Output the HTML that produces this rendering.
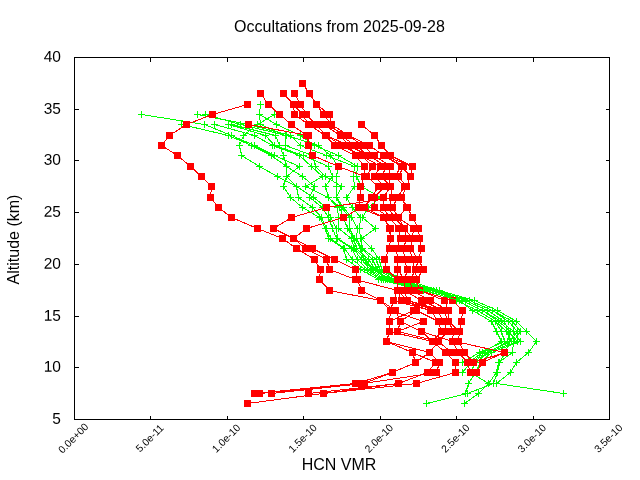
<!DOCTYPE html>
<html><head><meta charset="utf-8"><title>Occultations from 2025-09-28</title>
<style>html,body{margin:0;padding:0;background:#fff}body{width:640px;height:480px;overflow:hidden}</style></head>
<body>
<svg width="640" height="480" viewBox="0 0 640 480" style="display:block">
<rect width="640" height="480" fill="#fff"/>
<defs><clipPath id="plot"><rect x="75" y="58" width="534" height="361"/></clipPath><clipPath id="top"><polygon points="418,278 470,296 500,300 500,340 440,340 440,296 418,292"/></clipPath></defs>
<g id="grn" shape-rendering="crispEdges" stroke="#00ff00" stroke-width="1" fill="none">
<path d="M141.5 114.5 L204.5 124.5 L231.5 135.5 L254.5 145.5 L274.5 155.5 L299.5 166.5 L286.5 176.5 L296.5 186.5 L313.5 197.5 L326.5 207.5 L330.5 217.5 L336.5 228.5 L337.5 238.5 L353.5 248.5 L361.5 259.5 L370.5 269.5 L385.5 279.5 L426.5 290.5 L456.5 300.5 L477.5 310.5 L495.5 321.5 L506.5 331.5 L511.5 341.5 L485.5 352.5 L470.5 362.5 L462.5 372.5"/>
<path d="M181.5 124.5 L228.5 135.5 L251.5 145.5 L271.5 155.5 L286.5 166.5 L302.5 176.5 L314.5 186.5 L309.5 197.5 L322.5 207.5 L328.5 217.5 L332.5 228.5 L336.5 238.5 L351.5 248.5 L357.5 259.5 L367.5 269.5 L383.5 279.5 L426.5 290.5 L456.5 300.5 L477.5 310.5 L495.5 321.5 L501.5 331.5 L504.5 341.5 L479.5 352.5 L462.5 362.5"/>
<path d="M214.5 124.5 L254.5 135.5 L272.5 145.5 L299.5 155.5 L311.5 166.5 L322.5 176.5 L305.5 186.5 L328.5 197.5 L337.5 207.5 L338.5 217.5 L338.5 228.5 L351.5 238.5 L354.5 248.5 L365.5 259.5 L373.5 269.5 L387.5 279.5 L430.5 290.5 L461.5 300.5 L482.5 310.5 L498.5 321.5 L510.5 331.5 L507.5 341.5 L488.5 352.5 L475.5 362.5 L470.5 372.5 L488.5 383.5"/>
<path d="M228.5 124.5 L265.5 135.5 L274.5 145.5 L303.5 155.5 L328.5 166.5 L332.5 176.5 L325.5 186.5 L328.5 197.5 L339.5 207.5 L343.5 217.5 L347.5 228.5 L353.5 238.5 L356.5 248.5 L368.5 259.5 L375.5 269.5 L389.5 279.5 L430.5 290.5 L461.5 300.5 L482.5 310.5 L501.5 321.5 L513.5 331.5 L520.5 341.5 L491.5 352.5 L480.5 362.5 L475.5 372.5 L468.5 383.5 L465.5 393.5"/>
<path d="M274.5 114.5 L257.5 124.5 L243.5 135.5 L239.5 145.5 L241.5 155.5 L259.5 166.5 L277.5 176.5 L296.5 186.5 L298.5 197.5 L312.5 207.5 L321.5 217.5 L326.5 228.5 L330.5 238.5 L344.5 248.5 L352.5 259.5 L364.5 269.5 L381.5 279.5 L423.5 290.5 L459.5 300.5 L472.5 310.5 L491.5 321.5 L496.5 331.5 L501.5 341.5 L482.5 352.5 L468.5 362.5"/>
<path d="M260.5 104.5 L259.5 114.5 L260.5 124.5 L285.5 135.5 L285.5 145.5 L312.5 155.5 L315.5 166.5 L325.5 176.5 L341.5 186.5 L336.5 197.5 L343.5 207.5 L351.5 217.5 L357.5 228.5 L356.5 238.5 L361.5 248.5 L372.5 259.5 L377.5 269.5 L394.5 279.5 L436.5 290.5 L469.5 300.5 L492.5 310.5 L508.5 321.5 L517.5 331.5 L509.5 341.5 L505.5 352.5 L499.5 362.5 L497.5 372.5 L493.5 383.5 L467.5 393.5 L426.5 403.5"/>
<path d="M259.5 114.5 L276.5 124.5 L300.5 135.5 L314.5 145.5 L338.5 155.5 L357.5 166.5 L356.5 176.5 L361.5 186.5 L380.5 197.5 L368.5 207.5 L362.5 217.5 L375.5 228.5 L361.5 238.5 L371.5 248.5 L379.5 259.5 L381.5 269.5 L404.5 279.5 L439.5 290.5 L474.5 300.5 L497.5 310.5 L516.5 321.5 L526.5 331.5 L536.5 341.5 L528.5 352.5 L516.5 362.5 L510.5 372.5 L496.5 383.5 L563.5 393.5"/>
<path d="M231.5 124.5 L275.5 135.5 L279.5 145.5 L283.5 155.5 L286.5 166.5 L286.5 176.5 L283.5 186.5 L290.5 197.5 L302.5 207.5 L319.5 217.5 L325.5 228.5 L328.5 238.5 L343.5 248.5 L346.5 259.5 L360.5 269.5 L378.5 279.5 L423.5 290.5 L459.5 300.5 L472.5 310.5 L491.5 321.5 L496.5 331.5"/>
<path d="M197.5 114.5 L248.5 124.5 L290.5 135.5 L300.5 145.5 L326.5 155.5 L354.5 166.5 L353.5 176.5 L354.5 186.5 L346.5 197.5 L352.5 207.5 L360.5 217.5 L359.5 228.5 L360.5 238.5 L362.5 248.5 L376.5 259.5 L379.5 269.5 L399.5 279.5 L436.5 290.5 L469.5 300.5 L492.5 310.5 L512.5 321.5 L520.5 331.5 L513.5 341.5 L512.5 352.5 L498.5 362.5 L496.5 372.5 L488.5 383.5 L478.5 393.5 L464.5 403.5"/>
<path d="M205.5 114.5 L240.5 124.5 L286.5 135.5 L318.5 145.5 L330.5 155.5 L338.5 166.5 L336.5 176.5 L336.5 186.5 L336.5 197.5 L341.5 207.5 L349.5 217.5 L349.5 228.5 L354.5 238.5 L360.5 248.5 L363.5 259.5 L372.5 269.5 L391.5 279.5 L433.5 290.5 L465.5 300.5 L487.5 310.5 L504.5 321.5 L508.5 331.5 L517.5 341.5 L487.5 352.5 L472.5 362.5"/>
<path d="M138 114.5h7M141.5 111v7M201 124.5h7M204.5 121v7M228 135.5h7M231.5 132v7M251 145.5h7M254.5 142v7M271 155.5h7M274.5 152v7M296 166.5h7M299.5 163v7M283 176.5h7M286.5 173v7M293 186.5h7M296.5 183v7M310 197.5h7M313.5 194v7M323 207.5h7M326.5 204v7M327 217.5h7M330.5 214v7M333 228.5h7M336.5 225v7M334 238.5h7M337.5 235v7M350 248.5h7M353.5 245v7M358 259.5h7M361.5 256v7M367 269.5h7M370.5 266v7M382 279.5h7M385.5 276v7M423 290.5h7M426.5 287v7M453 300.5h7M456.5 297v7M474 310.5h7M477.5 307v7M492 321.5h7M495.5 318v7M503 331.5h7M506.5 328v7M508 341.5h7M511.5 338v7M482 352.5h7M485.5 349v7M467 362.5h7M470.5 359v7M459 372.5h7M462.5 369v7M178 124.5h7M181.5 121v7M225 135.5h7M228.5 132v7M248 145.5h7M251.5 142v7M268 155.5h7M271.5 152v7M283 166.5h7M286.5 163v7M299 176.5h7M302.5 173v7M311 186.5h7M314.5 183v7M306 197.5h7M309.5 194v7M319 207.5h7M322.5 204v7M325 217.5h7M328.5 214v7M329 228.5h7M332.5 225v7M333 238.5h7M336.5 235v7M348 248.5h7M351.5 245v7M354 259.5h7M357.5 256v7M364 269.5h7M367.5 266v7M380 279.5h7M383.5 276v7M423 290.5h7M426.5 287v7M453 300.5h7M456.5 297v7M474 310.5h7M477.5 307v7M492 321.5h7M495.5 318v7M498 331.5h7M501.5 328v7M501 341.5h7M504.5 338v7M476 352.5h7M479.5 349v7M459 362.5h7M462.5 359v7M211 124.5h7M214.5 121v7M251 135.5h7M254.5 132v7M269 145.5h7M272.5 142v7M296 155.5h7M299.5 152v7M308 166.5h7M311.5 163v7M319 176.5h7M322.5 173v7M302 186.5h7M305.5 183v7M325 197.5h7M328.5 194v7M334 207.5h7M337.5 204v7M335 217.5h7M338.5 214v7M335 228.5h7M338.5 225v7M348 238.5h7M351.5 235v7M351 248.5h7M354.5 245v7M362 259.5h7M365.5 256v7M370 269.5h7M373.5 266v7M384 279.5h7M387.5 276v7M427 290.5h7M430.5 287v7M458 300.5h7M461.5 297v7M479 310.5h7M482.5 307v7M495 321.5h7M498.5 318v7M507 331.5h7M510.5 328v7M504 341.5h7M507.5 338v7M485 352.5h7M488.5 349v7M472 362.5h7M475.5 359v7M467 372.5h7M470.5 369v7M485 383.5h7M488.5 380v7M225 124.5h7M228.5 121v7M262 135.5h7M265.5 132v7M271 145.5h7M274.5 142v7M300 155.5h7M303.5 152v7M325 166.5h7M328.5 163v7M329 176.5h7M332.5 173v7M322 186.5h7M325.5 183v7M325 197.5h7M328.5 194v7M336 207.5h7M339.5 204v7M340 217.5h7M343.5 214v7M344 228.5h7M347.5 225v7M350 238.5h7M353.5 235v7M353 248.5h7M356.5 245v7M365 259.5h7M368.5 256v7M372 269.5h7M375.5 266v7M386 279.5h7M389.5 276v7M427 290.5h7M430.5 287v7M458 300.5h7M461.5 297v7M479 310.5h7M482.5 307v7M498 321.5h7M501.5 318v7M510 331.5h7M513.5 328v7M517 341.5h7M520.5 338v7M488 352.5h7M491.5 349v7M477 362.5h7M480.5 359v7M472 372.5h7M475.5 369v7M465 383.5h7M468.5 380v7M462 393.5h7M465.5 390v7M271 114.5h7M274.5 111v7M254 124.5h7M257.5 121v7M240 135.5h7M243.5 132v7M236 145.5h7M239.5 142v7M238 155.5h7M241.5 152v7M256 166.5h7M259.5 163v7M274 176.5h7M277.5 173v7M293 186.5h7M296.5 183v7M295 197.5h7M298.5 194v7M309 207.5h7M312.5 204v7M318 217.5h7M321.5 214v7M323 228.5h7M326.5 225v7M327 238.5h7M330.5 235v7M341 248.5h7M344.5 245v7M349 259.5h7M352.5 256v7M361 269.5h7M364.5 266v7M378 279.5h7M381.5 276v7M420 290.5h7M423.5 287v7M456 300.5h7M459.5 297v7M469 310.5h7M472.5 307v7M488 321.5h7M491.5 318v7M493 331.5h7M496.5 328v7M498 341.5h7M501.5 338v7M479 352.5h7M482.5 349v7M465 362.5h7M468.5 359v7M257 104.5h7M260.5 101v7M256 114.5h7M259.5 111v7M257 124.5h7M260.5 121v7M282 135.5h7M285.5 132v7M282 145.5h7M285.5 142v7M309 155.5h7M312.5 152v7M312 166.5h7M315.5 163v7M322 176.5h7M325.5 173v7M338 186.5h7M341.5 183v7M333 197.5h7M336.5 194v7M340 207.5h7M343.5 204v7M348 217.5h7M351.5 214v7M354 228.5h7M357.5 225v7M353 238.5h7M356.5 235v7M358 248.5h7M361.5 245v7M369 259.5h7M372.5 256v7M374 269.5h7M377.5 266v7M391 279.5h7M394.5 276v7M433 290.5h7M436.5 287v7M466 300.5h7M469.5 297v7M489 310.5h7M492.5 307v7M505 321.5h7M508.5 318v7M514 331.5h7M517.5 328v7M506 341.5h7M509.5 338v7M502 352.5h7M505.5 349v7M496 362.5h7M499.5 359v7M494 372.5h7M497.5 369v7M490 383.5h7M493.5 380v7M464 393.5h7M467.5 390v7M423 403.5h7M426.5 400v7M256 114.5h7M259.5 111v7M273 124.5h7M276.5 121v7M297 135.5h7M300.5 132v7M311 145.5h7M314.5 142v7M335 155.5h7M338.5 152v7M354 166.5h7M357.5 163v7M353 176.5h7M356.5 173v7M358 186.5h7M361.5 183v7M377 197.5h7M380.5 194v7M365 207.5h7M368.5 204v7M359 217.5h7M362.5 214v7M372 228.5h7M375.5 225v7M358 238.5h7M361.5 235v7M368 248.5h7M371.5 245v7M376 259.5h7M379.5 256v7M378 269.5h7M381.5 266v7M401 279.5h7M404.5 276v7M436 290.5h7M439.5 287v7M471 300.5h7M474.5 297v7M494 310.5h7M497.5 307v7M513 321.5h7M516.5 318v7M523 331.5h7M526.5 328v7M533 341.5h7M536.5 338v7M525 352.5h7M528.5 349v7M513 362.5h7M516.5 359v7M507 372.5h7M510.5 369v7M493 383.5h7M496.5 380v7M560 393.5h7M563.5 390v7M228 124.5h7M231.5 121v7M272 135.5h7M275.5 132v7M276 145.5h7M279.5 142v7M280 155.5h7M283.5 152v7M283 166.5h7M286.5 163v7M283 176.5h7M286.5 173v7M280 186.5h7M283.5 183v7M287 197.5h7M290.5 194v7M299 207.5h7M302.5 204v7M316 217.5h7M319.5 214v7M322 228.5h7M325.5 225v7M325 238.5h7M328.5 235v7M340 248.5h7M343.5 245v7M343 259.5h7M346.5 256v7M357 269.5h7M360.5 266v7M375 279.5h7M378.5 276v7M420 290.5h7M423.5 287v7M456 300.5h7M459.5 297v7M469 310.5h7M472.5 307v7M488 321.5h7M491.5 318v7M493 331.5h7M496.5 328v7M194 114.5h7M197.5 111v7M245 124.5h7M248.5 121v7M287 135.5h7M290.5 132v7M297 145.5h7M300.5 142v7M323 155.5h7M326.5 152v7M351 166.5h7M354.5 163v7M350 176.5h7M353.5 173v7M351 186.5h7M354.5 183v7M343 197.5h7M346.5 194v7M349 207.5h7M352.5 204v7M357 217.5h7M360.5 214v7M356 228.5h7M359.5 225v7M357 238.5h7M360.5 235v7M359 248.5h7M362.5 245v7M373 259.5h7M376.5 256v7M376 269.5h7M379.5 266v7M396 279.5h7M399.5 276v7M433 290.5h7M436.5 287v7M466 300.5h7M469.5 297v7M489 310.5h7M492.5 307v7M509 321.5h7M512.5 318v7M517 331.5h7M520.5 328v7M510 341.5h7M513.5 338v7M509 352.5h7M512.5 349v7M495 362.5h7M498.5 359v7M493 372.5h7M496.5 369v7M485 383.5h7M488.5 380v7M475 393.5h7M478.5 390v7M461 403.5h7M464.5 400v7M202 114.5h7M205.5 111v7M237 124.5h7M240.5 121v7M283 135.5h7M286.5 132v7M315 145.5h7M318.5 142v7M327 155.5h7M330.5 152v7M335 166.5h7M338.5 163v7M333 176.5h7M336.5 173v7M333 186.5h7M336.5 183v7M333 197.5h7M336.5 194v7M338 207.5h7M341.5 204v7M346 217.5h7M349.5 214v7M346 228.5h7M349.5 225v7M351 238.5h7M354.5 235v7M357 248.5h7M360.5 245v7M360 259.5h7M363.5 256v7M369 269.5h7M372.5 266v7M388 279.5h7M391.5 276v7M430 290.5h7M433.5 287v7M462 300.5h7M465.5 297v7M484 310.5h7M487.5 307v7M501 321.5h7M504.5 318v7M505 331.5h7M508.5 328v7M514 341.5h7M517.5 338v7M484 352.5h7M487.5 349v7M469 362.5h7M472.5 359v7"/>
</g>
<g id="red" shape-rendering="crispEdges" stroke="#ff0000" stroke-width="1" fill="none">
<path d="M302.5 83.5 L309.5 93.5 L316.5 104.5 L323.5 114.5 L331.5 124.5 L340.5 135.5 L348.5 145.5 L355.5 155.5 L364.5 166.5"/>
<path d="M294.5 93.5 L300.5 104.5 L306.5 114.5 L315.5 124.5 L326.5 135.5 L341.5 145.5 L361.5 155.5 L372.5 166.5"/>
<path d="M283.5 93.5 L293.5 104.5 L302.5 114.5 L308.5 124.5 L325.5 135.5 L334.5 145.5 L355.5 155.5"/>
<path d="M260.5 93.5 L268.5 104.5 L279.5 114.5 L291.5 124.5 L306.5 135.5 L308.5 145.5"/>
<path d="M247.5 104.5 L212.5 114.5 L186.5 124.5 L169.5 135.5 L161.5 145.5 L177.5 155.5 L190.5 166.5 L201.5 176.5 L211.5 186.5 L210.5 197.5 L218.5 207.5 L231.5 217.5 L257.5 228.5 L282.5 238.5 L296.5 248.5 L314.5 259.5 L320.5 269.5 L319.5 279.5 L329.5 290.5 L380.5 300.5 L390.5 310.5 L389.5 321.5 L389.5 331.5 L386.5 341.5 L412.5 352.5 L415.5 362.5 L392.5 372.5 L363.5 383.5 L271.5 393.5"/>
<path d="M248.5 124.5 L308.5 135.5 L308.5 145.5 L312.5 155.5 L338.5 166.5 L364.5 176.5 L360.5 186.5 L360.5 197.5 L358.5 207.5"/>
<path d="M392.5 197.5 L326.5 207.5 L291.5 217.5 L273.5 228.5 L293.5 238.5 L305.5 248.5 L326.5 259.5 L329.5 269.5 L355.5 279.5 L397.5 290.5"/>
<path d="M374.5 197.5 L361.5 207.5 L343.5 217.5 L306.5 228.5 L293.5 238.5 L312.5 248.5 L334.5 259.5 L355.5 269.5 L357.5 279.5 L361.5 290.5 L380.5 300.5"/>
<path d="M294.5 114.5 L293.5 104.5"/>
<path d="M294.5 114.5 L308.5 124.5"/>
<path d="M329.5 114.5 L331.5 124.5"/>
<path d="M316.5 104.5 L329.5 114.5"/>
<path d="M361.5 124.5 L374.5 135.5 L381.5 145.5 L390.5 155.5 L401.5 166.5 L410.5 176.5 L406.5 186.5"/>
<path d="M323.5 124.5 L348.5 135.5 L369.5 145.5 L383.5 155.5 L412.5 166.5 L410.5 176.5"/>
<path d="M247.5 403.5 L398.5 383.5 L427.5 372.5"/>
<path d="M254.5 393.5 L355.5 383.5 L392.5 372.5"/>
<path d="M259.5 393.5 L363.5 383.5 L436.5 372.5"/>
<path d="M308.5 393.5 L398.5 383.5"/>
<path d="M323.5 393.5 L416.5 383.5 L455.5 372.5"/>
<path d="M380.5 300.5 L395.5 310.5 L400.5 321.5 L397.5 331.5"/>
<path d="M393.5 300.5 L390.5 310.5"/>
<path d="M386.5 341.5 L429.5 352.5 L415.5 362.5"/>
<path d="M389.5 331.5 L432.5 341.5"/>
<path d="M397.5 331.5 L438.5 341.5 L429.5 352.5"/>
<path d="M400.5 321.5 L421.5 331.5 L432.5 341.5"/>
<path d="M389.5 321.5 L413.5 310.5"/>
<path d="M400.5 321.5 L416.5 310.5"/>
<path d="M423.5 321.5 L390.5 310.5"/>
<path d="M423.5 321.5 L397.5 331.5"/>
<path d="M416.5 310.5 L438.5 321.5"/>
<path d="M421.5 331.5 L452.5 341.5"/>
<path d="M401.5 300.5 L430.5 310.5"/>
<path d="M407.5 300.5 L437.5 310.5"/>
<path d="M413.5 310.5 L421.5 300.5"/>
<path d="M416.5 310.5 L430.5 300.5"/>
<path d="M412.5 352.5 L435.5 362.5"/>
<path d="M429.5 352.5 L439.5 362.5"/>
<path d="M432.5 341.5 L445.5 352.5"/>
<path d="M455.5 341.5 L504.5 352.5 L482.5 362.5"/>
<path d="M504.5 352.5 L473.5 362.5"/>
<path d="M435.5 362.5 L427.5 372.5"/>
<path d="M439.5 362.5 L436.5 372.5"/>
<path d="M455.5 362.5 L455.5 372.5"/>
<path d="M467.5 362.5 L470.5 372.5"/>
<path d="M482.5 362.5 L476.5 372.5"/>
<path d="M445.5 352.5 L455.5 362.5"/>
<path d="M458.5 352.5 L467.5 362.5"/>
<path d="M464.5 352.5 L473.5 362.5"/>
<path d="M461.5 321.5 L462.5 310.5 L452.5 300.5"/>
<path d="M461.5 321.5 L459.5 331.5 L458.5 341.5 L464.5 352.5"/>
<path d="M444.5 300.5 L448.5 310.5"/>
<path d="M308.5 124.5L325.5 135.5M315.5 124.5L326.5 135.5M323.5 124.5L340.5 135.5M331.5 124.5L348.5 135.5M361.5 124.5L374.5 135.5M325.5 135.5L334.5 145.5M326.5 135.5L341.5 145.5M326.5 135.5L348.5 145.5M340.5 135.5L355.5 145.5M348.5 135.5L362.5 145.5M348.5 135.5L369.5 145.5M374.5 135.5L381.5 145.5M334.5 145.5L355.5 155.5M341.5 145.5L361.5 155.5M348.5 145.5L368.5 155.5M355.5 145.5L368.5 155.5M362.5 145.5L374.5 155.5M369.5 145.5L383.5 155.5M381.5 145.5L390.5 155.5M355.5 155.5L364.5 166.5M361.5 155.5L372.5 166.5M361.5 155.5L380.5 166.5M368.5 155.5L386.5 166.5M374.5 155.5L390.5 166.5M383.5 155.5L401.5 166.5M383.5 155.5L403.5 166.5M390.5 155.5L412.5 166.5M364.5 166.5L364.5 176.5M372.5 166.5L366.5 176.5M380.5 166.5L374.5 176.5M386.5 166.5L381.5 176.5M390.5 166.5L388.5 176.5M401.5 166.5L394.5 176.5M403.5 166.5L398.5 176.5M412.5 166.5L410.5 176.5M364.5 176.5L360.5 186.5M366.5 176.5L378.5 186.5M374.5 176.5L384.5 186.5M381.5 176.5L390.5 186.5M388.5 176.5L390.5 186.5M394.5 176.5L404.5 186.5M398.5 176.5L406.5 186.5M410.5 176.5L406.5 186.5M360.5 186.5L360.5 197.5M378.5 186.5L371.5 197.5M384.5 186.5L374.5 197.5M390.5 186.5L383.5 197.5M390.5 186.5L392.5 197.5M404.5 186.5L397.5 197.5M406.5 186.5L401.5 197.5M406.5 186.5L401.5 197.5M360.5 197.5L358.5 207.5M371.5 197.5L364.5 207.5M374.5 197.5L374.5 207.5M383.5 197.5L383.5 207.5M392.5 197.5L388.5 207.5M397.5 197.5L392.5 207.5M401.5 197.5L406.5 207.5M401.5 197.5L407.5 207.5M358.5 207.5L383.5 217.5M364.5 207.5L383.5 217.5M374.5 207.5L389.5 217.5M383.5 207.5L389.5 217.5M388.5 207.5L394.5 217.5M392.5 207.5L398.5 217.5M406.5 207.5L398.5 217.5M407.5 207.5L412.5 217.5M383.5 217.5L389.5 228.5M383.5 217.5L390.5 228.5M389.5 217.5L398.5 228.5M389.5 217.5L398.5 228.5M394.5 217.5L404.5 228.5M398.5 217.5L404.5 228.5M398.5 217.5L413.5 228.5M412.5 217.5L418.5 228.5M389.5 228.5L390.5 238.5M390.5 228.5L390.5 238.5M398.5 228.5L400.5 238.5M398.5 228.5L400.5 238.5M404.5 228.5L406.5 238.5M404.5 228.5L412.5 238.5M413.5 228.5L412.5 238.5M418.5 228.5L419.5 238.5M390.5 238.5L389.5 248.5M390.5 238.5L389.5 248.5M400.5 238.5L396.5 248.5M400.5 238.5L396.5 248.5M406.5 238.5L403.5 248.5M412.5 238.5L410.5 248.5M412.5 238.5L410.5 248.5M419.5 238.5L421.5 248.5M389.5 248.5L384.5 259.5M389.5 248.5L384.5 259.5M396.5 248.5L397.5 259.5M396.5 248.5L397.5 259.5M403.5 248.5L404.5 259.5M410.5 248.5L411.5 259.5M410.5 248.5L418.5 259.5M421.5 248.5L418.5 259.5M384.5 259.5L386.5 269.5M384.5 259.5L386.5 269.5M397.5 259.5L397.5 269.5M397.5 259.5L397.5 269.5M404.5 259.5L407.5 269.5M411.5 259.5L415.5 269.5M418.5 259.5L415.5 269.5M418.5 259.5L423.5 269.5M386.5 269.5L397.5 279.5M386.5 269.5L397.5 279.5M397.5 269.5L397.5 279.5M397.5 269.5L404.5 279.5M407.5 269.5L404.5 279.5M415.5 269.5L410.5 279.5M415.5 269.5L416.5 279.5M423.5 269.5L416.5 279.5M397.5 279.5L397.5 290.5M397.5 279.5L397.5 290.5M397.5 279.5L397.5 290.5M404.5 279.5L404.5 290.5M404.5 279.5L404.5 290.5M410.5 279.5L411.5 290.5M416.5 279.5L419.5 290.5M416.5 279.5L419.5 290.5M397.5 290.5L393.5 300.5M397.5 290.5L401.5 300.5M397.5 290.5L407.5 300.5M404.5 290.5L407.5 300.5M404.5 290.5L421.5 300.5M411.5 290.5L430.5 300.5M419.5 290.5L444.5 300.5M419.5 290.5L452.5 300.5M393.5 300.5L430.5 310.5M401.5 300.5L437.5 310.5M407.5 300.5L437.5 310.5M407.5 300.5L443.5 310.5M421.5 300.5L443.5 310.5M430.5 300.5L448.5 310.5M444.5 300.5L448.5 310.5M452.5 300.5L462.5 310.5M430.5 310.5L438.5 321.5M437.5 310.5L443.5 321.5M443.5 310.5L448.5 321.5M448.5 310.5L448.5 321.5M462.5 310.5L461.5 321.5M438.5 321.5L441.5 331.5M443.5 321.5L447.5 331.5M448.5 321.5L453.5 331.5M448.5 321.5L459.5 331.5M461.5 321.5L459.5 331.5M441.5 331.5L432.5 341.5M447.5 331.5L438.5 341.5M453.5 331.5L452.5 341.5M459.5 331.5L458.5 341.5M459.5 331.5L458.5 341.5M432.5 341.5L445.5 352.5M438.5 341.5L451.5 352.5M452.5 341.5L458.5 352.5M458.5 341.5L464.5 352.5M458.5 341.5L464.5 352.5"/>
</g>
<g shape-rendering="crispEdges" fill="#ff0000" stroke="none">
<path d="M299 80h7v7h-7zM257 90h7v7h-7zM280 90h7v7h-7zM291 90h7v7h-7zM306 90h7v7h-7zM244 101h7v7h-7zM265 101h7v7h-7zM290 101h14v7h-14zM313 101h7v7h-7zM209 111h7v7h-7zM276 111h7v7h-7zM291 111h7v7h-7zM299 111h11v7h-11zM320 111h13v7h-13zM183 121h7v7h-7zM245 121h7v7h-7zM288 121h7v7h-7zM305 121h30v7h-30zM358 121h7v7h-7zM166 132h7v7h-7zM303 132h9v7h-9zM322 132h8v7h-8zM337 132h15v7h-15zM371 132h7v7h-7zM158 142h7v7h-7zM305 142h7v7h-7zM331 142h42v7h-42zM378 142h7v7h-7zM174 152h7v7h-7zM309 152h7v7h-7zM352 152h26v7h-26zM380 152h14v7h-14zM187 163h7v7h-7zM335 163h7v7h-7zM361 163h7v7h-7zM369 163h7v7h-7zM377 163h17v7h-17zM398 163h9v7h-9zM409 163h7v7h-7zM198 173h7v7h-7zM361 173h9v7h-9zM371 173h31v7h-31zM407 173h7v7h-7zM208 183h7v7h-7zM357 183h7v7h-7zM375 183h19v7h-19zM401 183h9v7h-9zM207 194h7v7h-7zM357 194h7v7h-7zM368 194h10v7h-10zM380 194h7v7h-7zM389 194h16v7h-16zM215 204h7v7h-7zM323 204h7v7h-7zM355 204h13v7h-13zM371 204h7v7h-7zM380 204h16v7h-16zM403 204h8v7h-8zM228 214h7v7h-7zM288 214h7v7h-7zM340 214h7v7h-7zM380 214h22v7h-22zM409 214h7v7h-7zM254 225h7v7h-7zM270 225h7v7h-7zM303 225h7v7h-7zM386 225h8v7h-8zM395 225h13v7h-13zM410 225h12v7h-12zM279 235h7v7h-7zM290 235h7v7h-7zM387 235h7v7h-7zM397 235h26v7h-26zM293 245h7v7h-7zM302 245h14v7h-14zM386 245h28v7h-28zM418 245h7v7h-7zM311 256h7v7h-7zM323 256h7v7h-7zM331 256h7v7h-7zM381 256h7v7h-7zM394 256h28v7h-28zM317 266h7v7h-7zM326 266h7v7h-7zM352 266h7v7h-7zM383 266h7v7h-7zM394 266h7v7h-7zM404 266h7v7h-7zM412 266h15v7h-15zM316 276h7v7h-7zM352 276h9v7h-9zM394 276h26v7h-26zM326 287h7v7h-7zM358 287h7v7h-7zM394 287h29v7h-29zM377 297h7v7h-7zM390 297h7v7h-7zM398 297h13v7h-13zM418 297h16v7h-16zM441 297h7v7h-7zM449 297h7v7h-7zM387 307h12v7h-12zM410 307h10v7h-10zM427 307h25v7h-25zM459 307h7v7h-7zM386 318h7v7h-7zM397 318h7v7h-7zM420 318h7v7h-7zM435 318h17v7h-17zM458 318h7v7h-7zM386 328h7v7h-7zM394 328h7v7h-7zM418 328h7v7h-7zM438 328h25v7h-25zM383 338h7v7h-7zM429 338h13v7h-13zM449 338h13v7h-13zM409 349h7v7h-7zM426 349h7v7h-7zM442 349h26v7h-26zM501 349h7v7h-7zM412 359h7v7h-7zM432 359h11v7h-11zM452 359h7v7h-7zM464 359h13v7h-13zM479 359h7v7h-7zM389 369h7v7h-7zM424 369h16v7h-16zM452 369h7v7h-7zM467 369h13v7h-13zM352 380h16v7h-16zM395 380h7v7h-7zM413 380h7v7h-7zM251 390h12v7h-12zM268 390h7v7h-7zM305 390h7v7h-7zM320 390h7v7h-7zM244 400h7v7h-7z"/>
</g>
<g clip-path="url(#top)"><g shape-rendering="crispEdges" stroke="#00ff00" stroke-width="1" fill="none">
<path d="M231.5 124.5 L275.5 135.5 L279.5 145.5 L283.5 155.5 L286.5 166.5 L286.5 176.5 L283.5 186.5 L290.5 197.5 L302.5 207.5 L319.5 217.5 L325.5 228.5 L328.5 238.5 L343.5 248.5 L346.5 259.5 L360.5 269.5 L378.5 279.5 L423.5 290.5 L459.5 300.5 L472.5 310.5 L491.5 321.5 L496.5 331.5"/>
<path d="M228 124.5h7M231.5 121v7M272 135.5h7M275.5 132v7M276 145.5h7M279.5 142v7M280 155.5h7M283.5 152v7M283 166.5h7M286.5 163v7M283 176.5h7M286.5 173v7M280 186.5h7M283.5 183v7M287 197.5h7M290.5 194v7M299 207.5h7M302.5 204v7M316 217.5h7M319.5 214v7M322 228.5h7M325.5 225v7M325 238.5h7M328.5 235v7M340 248.5h7M343.5 245v7M343 259.5h7M346.5 256v7M357 269.5h7M360.5 266v7M375 279.5h7M378.5 276v7M420 290.5h7M423.5 287v7M456 300.5h7M459.5 297v7M469 310.5h7M472.5 307v7M488 321.5h7M491.5 318v7M493 331.5h7M496.5 328v7"/>
<path d="M274.5 114.5 L257.5 124.5 L243.5 135.5 L239.5 145.5 L241.5 155.5 L259.5 166.5 L277.5 176.5 L296.5 186.5 L298.5 197.5 L312.5 207.5 L321.5 217.5 L326.5 228.5 L330.5 238.5 L344.5 248.5 L352.5 259.5 L364.5 269.5 L381.5 279.5 L423.5 290.5 L459.5 300.5 L472.5 310.5 L491.5 321.5 L496.5 331.5 L501.5 341.5 L482.5 352.5 L468.5 362.5"/>
<path d="M271 114.5h7M274.5 111v7M254 124.5h7M257.5 121v7M240 135.5h7M243.5 132v7M236 145.5h7M239.5 142v7M238 155.5h7M241.5 152v7M256 166.5h7M259.5 163v7M274 176.5h7M277.5 173v7M293 186.5h7M296.5 183v7M295 197.5h7M298.5 194v7M309 207.5h7M312.5 204v7M318 217.5h7M321.5 214v7M323 228.5h7M326.5 225v7M327 238.5h7M330.5 235v7M341 248.5h7M344.5 245v7M349 259.5h7M352.5 256v7M361 269.5h7M364.5 266v7M378 279.5h7M381.5 276v7M420 290.5h7M423.5 287v7M456 300.5h7M459.5 297v7M469 310.5h7M472.5 307v7M488 321.5h7M491.5 318v7M493 331.5h7M496.5 328v7M498 341.5h7M501.5 338v7M479 352.5h7M482.5 349v7M465 362.5h7M468.5 359v7"/>
</g></g>
<g shape-rendering="crispEdges" stroke="#000" stroke-width="1" fill="none">
<rect x="74.5" y="57.5" width="535" height="362"/>
<path d="M74.5 419.5v-4M74.5 57.5v4"/>
<path d="M150.5 419.5v-4M150.5 57.5v4"/>
<path d="M227.5 419.5v-4M227.5 57.5v4"/>
<path d="M303.5 419.5v-4M303.5 57.5v4"/>
<path d="M380.5 419.5v-4M380.5 57.5v4"/>
<path d="M456.5 419.5v-4M456.5 57.5v4"/>
<path d="M533.5 419.5v-4M533.5 57.5v4"/>
<path d="M609.5 419.5v-4M609.5 57.5v4"/>
<path d="M74.5 419.5h4M609.5 419.5h-4"/>
<path d="M74.5 367.5h4M609.5 367.5h-4"/>
<path d="M74.5 316.5h4M609.5 316.5h-4"/>
<path d="M74.5 264.5h4M609.5 264.5h-4"/>
<path d="M74.5 212.5h4M609.5 212.5h-4"/>
<path d="M74.5 160.5h4M609.5 160.5h-4"/>
<path d="M74.5 109.5h4M609.5 109.5h-4"/>
<path d="M74.5 57.5h4M609.5 57.5h-4"/>
</g>
<g font-family="'Liberation Sans', Arial, sans-serif" fill="#000">
<text x="339.5" y="32" font-size="16" text-anchor="middle">Occultations from 2025-09-28</text>
<text transform="translate(60.9,423.7) rotate(0.05)" font-size="15.5" text-anchor="end">5</text>
<text transform="translate(60.9,371.7) rotate(0.05)" font-size="15.5" text-anchor="end">10</text>
<text transform="translate(60.9,320.7) rotate(0.05)" font-size="15.5" text-anchor="end">15</text>
<text transform="translate(60.9,268.7) rotate(0.05)" font-size="15.5" text-anchor="end">20</text>
<text transform="translate(60.9,216.7) rotate(0.05)" font-size="15.5" text-anchor="end">25</text>
<text transform="translate(60.9,164.7) rotate(0.05)" font-size="15.5" text-anchor="end">30</text>
<text transform="translate(60.9,113.7) rotate(0.05)" font-size="15.5" text-anchor="end">35</text>
<text transform="translate(60.9,61.7) rotate(0.05)" font-size="15.5" text-anchor="end">40</text>
<text transform="translate(18.5,239.5) rotate(-90)" font-size="16" text-anchor="middle">Altitude (km)</text>
<text x="339" y="470" font-size="16" text-anchor="middle">HCN VMR</text>
<text transform="translate(73.2,438.1) rotate(-45)" font-size="10.35" text-anchor="middle" dy="3.7">0.0e+00</text>
<text transform="translate(149.6,438.1) rotate(-45)" font-size="10.35" text-anchor="middle" dy="3.7">5.0e-11</text>
<text transform="translate(226.1,438.1) rotate(-45)" font-size="10.35" text-anchor="middle" dy="3.7">1.0e-10</text>
<text transform="translate(302.5,438.1) rotate(-45)" font-size="10.35" text-anchor="middle" dy="3.7">1.5e-10</text>
<text transform="translate(378.9,438.1) rotate(-45)" font-size="10.35" text-anchor="middle" dy="3.7">2.0e-10</text>
<text transform="translate(455.3,438.1) rotate(-45)" font-size="10.35" text-anchor="middle" dy="3.7">2.5e-10</text>
<text transform="translate(531.8,438.1) rotate(-45)" font-size="10.35" text-anchor="middle" dy="3.7">3.0e-10</text>
<text transform="translate(608.2,438.1) rotate(-45)" font-size="10.35" text-anchor="middle" dy="3.7">3.5e-10</text>
</g>
</svg>
</body></html>
